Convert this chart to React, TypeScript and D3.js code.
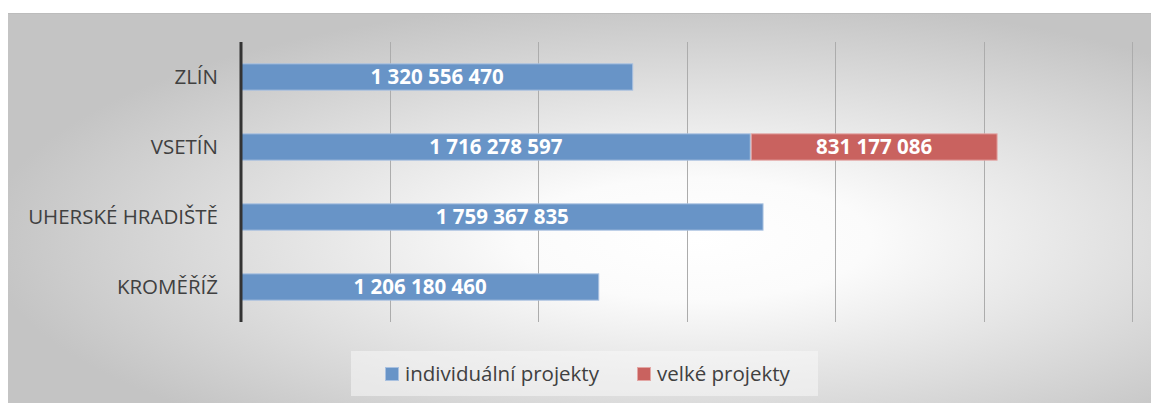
import React from 'react';
import * as d3 from 'd3';

const categories = ['ZLÍN', 'VSETÍN', 'UHERSKÉ HRADIŠTĚ', 'KROMĚŘÍŽ'];
const individualni = [1320556470, 1716278597, 1759367835, 1206180460];
const velke = [0, 831177086, 0, 0];
const seriesNames = ['individuální projekty', 'velké projekty'];
const seriesColors = ['#6894c7', '#c9625f'];
const xTicks = [0, 500000000, 1000000000, 1500000000, 2000000000, 2500000000, 3000000000];

const fmt = (v: number) => d3.format(',')(v).replace(/,/g, ' ');

const App = () => {
  const ref = React.useRef<SVGSVGElement>(null);

  React.useEffect(() => {
    const svg = d3.select(ref.current);
    svg.selectAll('*').remove();

    const width = 1151;
    const height = 405;
    const margin = { top: 42, right: 19, bottom: 83, left: 241 };
    const font = 'Open Sans, sans-serif';

    const defs = svg.append('defs');
    const grad = defs.append('radialGradient')
      .attr('id', 'bg')
      .attr('cx', '0.6').attr('cy', '0.58').attr('r', '0.62');
    grad.append('stop').attr('offset', '0').attr('stop-color', '#ffffff');
    grad.append('stop').attr('offset', '0.25').attr('stop-color', '#fbfbfb');
    grad.append('stop').attr('offset', '1').attr('stop-color', '#c4c4c4');

    svg.append('rect')
      .attr('x', 8).attr('y', 13)
      .attr('width', width - 8).attr('height', 390)
      .attr('fill', 'url(#bg)');
    svg.append('line')
      .attr('x1', 8).attr('x2', width).attr('y1', 13.5).attr('y2', 13.5)
      .attr('stroke', '#bcbcbc');

    const x = d3.scaleLinear()
      .domain([0, 3000000000])
      .range([margin.left, width - margin.right]);

    const y = d3.scaleBand()
      .domain(categories)
      .range([margin.top, height - margin.bottom])
      .paddingInner(0.61)
      .paddingOuter(0.305);

    // gridlines
    svg.append('g')
      .selectAll('line')
      .data(xTicks.slice(1))
      .join('line')
      .attr('x1', d => Math.round(x(d)) + 0.5)
      .attr('x2', d => Math.round(x(d)) + 0.5)
      .attr('y1', margin.top)
      .attr('y2', height - margin.bottom)
      .attr('stroke', '#acacac')
      .attr('stroke-width', 1);

    const stackData = categories.map((c, i) => ({ cat: c, a: individualni[i], b: velke[i] }));
    const stack = d3.stack<any>().keys(['a', 'b'])(stackData);

    stack.forEach((layer, si) => {
      const g = svg.append('g');
      layer.forEach((d: any) => {
        const v = d[1] - d[0];
        if (v <= 0) return;
        const x0 = x(d[0]);
        const x1 = x(d[1]);
        g.append('rect')
          .attr('x', x0 + 0.5)
          .attr('y', (y(d.data.cat) as number) + 0.5)
          .attr('width', x1 - x0 - 1)
          .attr('height', y.bandwidth() - 1)
          .attr('fill', seriesColors[si])
          .attr('stroke', si === 0 ? '#a9c1e0' : '#e3a7a5')
          .attr('stroke-width', 1);
        g.append('text')
          .attr('x', (x0 + x1) / 2)
          .attr('y', (y(d.data.cat) as number) + y.bandwidth() / 2)
          .attr('dy', '0.36em')
          .attr('text-anchor', 'middle')
          .attr('fill', '#ffffff')
          .attr('font-family', font)
          .attr('font-weight', 'bold')
          .attr('font-size', 20.5)
          .text(fmt(v));
      });
    });

    // axis line
    svg.append('line')
      .attr('x1', margin.left).attr('x2', margin.left)
      .attr('y1', margin.top).attr('y2', height - margin.bottom)
      .attr('stroke', '#333333')
      .attr('stroke-width', 3);

    // category labels
    svg.append('g')
      .selectAll('text')
      .data(categories)
      .join('text')
      .attr('x', 218)
      .attr('y', d => (y(d) as number) + y.bandwidth() / 2)
      .attr('dy', '0.36em')
      .attr('text-anchor', 'end')
      .attr('fill', '#404040')
      .attr('font-family', font)
      .attr('font-size', 20.5)
      .text(d => d);

    // legend
    svg.append('rect')
      .attr('x', 351).attr('y', 351)
      .attr('width', 467).attr('height', 45)
      .attr('fill', '#f7f7f7').attr('opacity', 0.55);
    const legendX = [385, 637];
    seriesNames.forEach((name, i) => {
      svg.append('rect')
        .attr('x', legendX[i] + 0.5).attr('y', 367.5)
        .attr('width', 13).attr('height', 13)
        .attr('fill', seriesColors[i])
        .attr('stroke', i === 0 ? '#a9c1e0' : '#e3a7a5');
      svg.append('text')
        .attr('x', legendX[i] + 20)
        .attr('y', 374)
        .attr('dy', '0.36em')
        .attr('fill', '#404040')
        .attr('font-family', font)
        .attr('font-size', 20.5)
        .text(name);
    });
  }, []);

  return <svg ref={ref} width="1151" height="405" style={{ display: 'block', position: 'absolute', left: 0, top: 0 }}></svg>;
};

export default App;
